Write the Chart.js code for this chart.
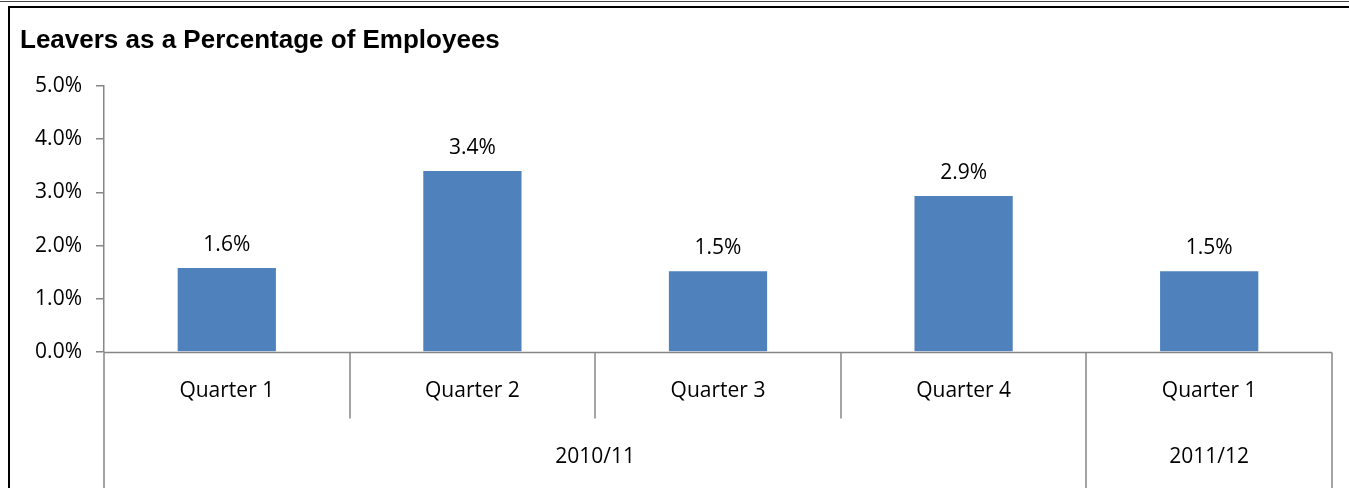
<!DOCTYPE html>
<html>
<head>
<meta charset="utf-8">
<script src="https://cdn.jsdelivr.net/npm/chart.js@4.4.1/dist/chart.umd.min.js"></script>
<style>
  html, body { margin: 0; padding: 0; background: #fff; }
  #wrap { position: relative; width: 1349px; height: 488px; }
</style>
</head>
<body>
<div id="wrap"><canvas id="c" width="1349" height="488"></canvas></div>
<script>
const titleText = "Leavers as a Percentage of Employees";
const quarters = ["Quarter 1", "Quarter 2", "Quarter 3", "Quarter 4", "Quarter 1"];
const years = ["2010/11", "2010/11", "2010/11", "2010/11", "2011/12"];
const leaversPct = [1.58, 3.40, 1.52, 2.93, 1.52];
const yTicks = [0, 1, 2, 3, 4, 5];

const AXIS = "#868686";
const LABEL_FONT = "21px 'Open Sans'";

const framePlugin = {
  id: "frame",
  beforeDraw(chart) {
    const ctx = chart.ctx;
    ctx.save();
    ctx.fillStyle = "#fff";
    ctx.fillRect(0, 0, chart.width, chart.height);
    ctx.fillStyle = "#444";
    ctx.fillRect(0, 1, chart.width, 1);
    ctx.fillStyle = "#000";
    ctx.fillRect(8, 6, chart.width - 8, 2);
    ctx.fillRect(8, 6, 2, chart.height - 6);
    ctx.font = "bold 26px 'Liberation Sans', Arial, sans-serif";
    ctx.fillStyle = "#000";
    ctx.textBaseline = "alphabetic";
    ctx.textAlign = "left";
    ctx.fillText(titleText, 20, 48);
    ctx.restore();
  }
};

const catAxisPlugin = {
  id: "catAxis",
  afterDraw(chart) {
    const ctx = chart.ctx;
    const x = chart.scales.x;
    const area = chart.chartArea;
    const n = quarters.length;
    const step = (area.right - area.left) / n;
    const y0 = Math.round(area.bottom) + 0.5;
    ctx.save();
    ctx.strokeStyle = AXIS;
    ctx.lineWidth = 1.5;
    ctx.beginPath();
    ctx.moveTo(area.left, y0);
    ctx.lineTo(area.right, y0);
    ctx.stroke();
    for (let i = 0; i <= n; i++) {
      const bx = Math.round(area.left + step * i);
      const isYearEdge = i === 0 || i === n || years[i] !== years[i - 1];
      ctx.beginPath();
      ctx.moveTo(bx, y0);
      ctx.lineTo(bx, isYearEdge ? chart.height : y0 + 66);
      ctx.stroke();
    }
    ctx.font = LABEL_FONT;
    ctx.fillStyle = "#000";
    ctx.textAlign = "center";
    ctx.textBaseline = "alphabetic";
    for (let i = 0; i < n; i++) {
      ctx.fillText(quarters[i], x.getPixelForValue(i), 397);
    }
    let start = 0;
    for (let i = 1; i <= n; i++) {
      if (i === n || years[i] !== years[start]) {
        const cx = (x.getPixelForValue(start) + x.getPixelForValue(i - 1)) / 2;
        ctx.fillText(years[start], cx, 463);
        start = i;
      }
    }
    const meta = chart.getDatasetMeta(0);
    meta.data.forEach((bar, i) => {
      ctx.fillText(leaversPct[i].toFixed(1) + "%", bar.x, bar.y - 17);
    });
    ctx.restore();
  }
};

new Chart(document.getElementById("c"), {
  type: "bar",
  data: {
    labels: quarters,
    datasets: [{
      data: leaversPct,
      backgroundColor: "#4F81BD",
      borderWidth: 0,
      categoryPercentage: 1.0,
      barPercentage: 0.4
    }]
  },
  options: {
    responsive: false,
    animation: false,
    devicePixelRatio: 1,
    layout: { padding: { top: 86, right: 17, bottom: 136, left: 0 } },
    plugins: { legend: { display: false }, tooltip: { enabled: false }, title: { display: false } },
    scales: {
      x: { display: false },
      y: {
        min: 0, max: 5,
        afterFit(scale) { scale.width = 104; },
        afterBuildTicks(scale) { scale.ticks = yTicks.map(v => ({ value: v })); },
        grid: { drawOnChartArea: false, drawTicks: true, tickLength: 8, color: AXIS, lineWidth: 1.5 },
        border: { display: true, color: AXIS, width: 1.5 },
        ticks: {
          padding: 14,
          color: "#000",
          font: { family: "'Open Sans'", size: 21 },
          callback: v => v.toFixed(1) + "%"
        }
      }
    }
  },
  plugins: [framePlugin, catAxisPlugin]
});
</script>
</body>
</html>
